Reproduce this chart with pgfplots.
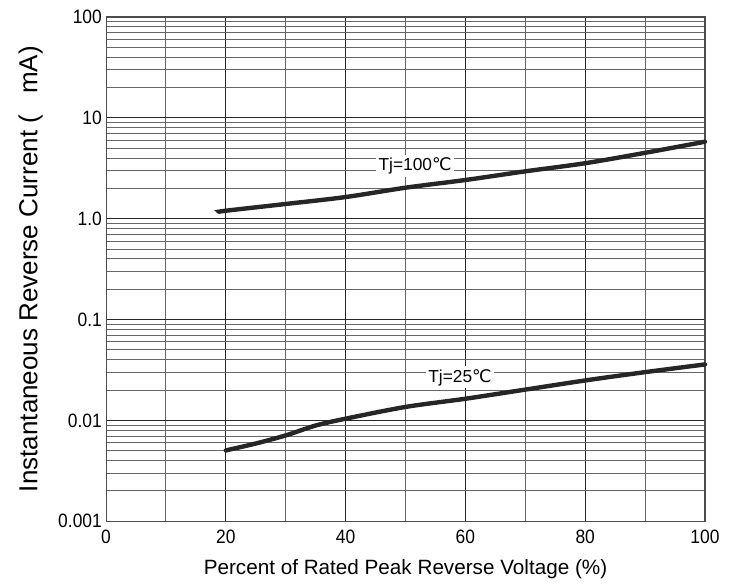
\documentclass[border=0pt]{standalone}
\usepackage{fontspec}
\setmainfont{Liberation Sans}
\newfontfamily\dejavu{DejaVu Sans}
\usepackage{pgfplots}
\pgfplotsset{compat=1.18}

\newcommand{\degC}{{\dejavu ℃}}

\begin{document}
\begin{tikzpicture}
\begin{axis}[
    scale only axis,
    width=449pt, height=378pt,
    xmin=0, xmax=100,
    ymode=log, ymin=0.001, ymax=100,
    xtick={0,20,...,100},
    minor xtick={10,30,...,90},
    ytick={0.001,0.01,0.1,1,10,100},
    yticklabels={0.001,0.01,0.1,1.0,10,100},
    /pgf/number format/assume math mode=true,
    major tick length=0pt, minor tick length=0pt,
    grid=both,
    major grid style={black!85, line width=0.8pt},
    minor grid style={black!60, line width=0.7pt},
    axis line style={black!70, line width=0.8pt},
    tick label style={font=\fontsize{14.5}{16}\selectfont, xscale=0.9},
    xticklabel style={yshift=-3pt},
    xlabel style={font=\fontsize{15.5}{18}\selectfont, yshift=-5pt},
    ylabel style={font=\fontsize{19.5}{22}\selectfont, yshift=5pt},
    xlabel={Percent of Rated Peak Reverse Voltage (\%)},
    ylabel={Instantaneous Reverse Current (\hspace{0.8em}mA)},
    clip=false,
]
% Tj = 100 C
\addplot[black!85, line width=3.3pt, smooth, line cap=round] coordinates {
    (18.9,1.17) (20,1.20) (30,1.40) (40,1.64) (50,2.03) (60,2.42)
    (70,2.95) (80,3.55) (90,4.5) (100,5.8)
};
% Tj = 25 C
\addplot[black!85, line width=3.3pt, smooth, line cap=round] coordinates {
    (20,0.00504) (25,0.0059) (30,0.0071) (35,0.0089) (40,0.0104) (50,0.0136)
    (60,0.0164) (70,0.0202) (80,0.0249) (90,0.0301) (100,0.0359)
};
\node[fill=white, inner sep=2pt, font=\fontsize{13}{15}\selectfont]
    at (axis cs:51.6,3.36) {Tj=100\degC};
\node[fill=white, inner sep=2pt, font=\fontsize{13}{15}\selectfont]
    at (axis cs:59.1,0.0267) {Tj=25\degC};
\end{axis}
\pgfresetboundingbox
\path (current axis.south west) ++(-79.5pt,-48.75pt) coordinate (bl);
\path (current axis.north east) ++(24pt,12.75pt) coordinate (tr);
\path (bl) rectangle (tr);
\end{tikzpicture}
\end{document}
